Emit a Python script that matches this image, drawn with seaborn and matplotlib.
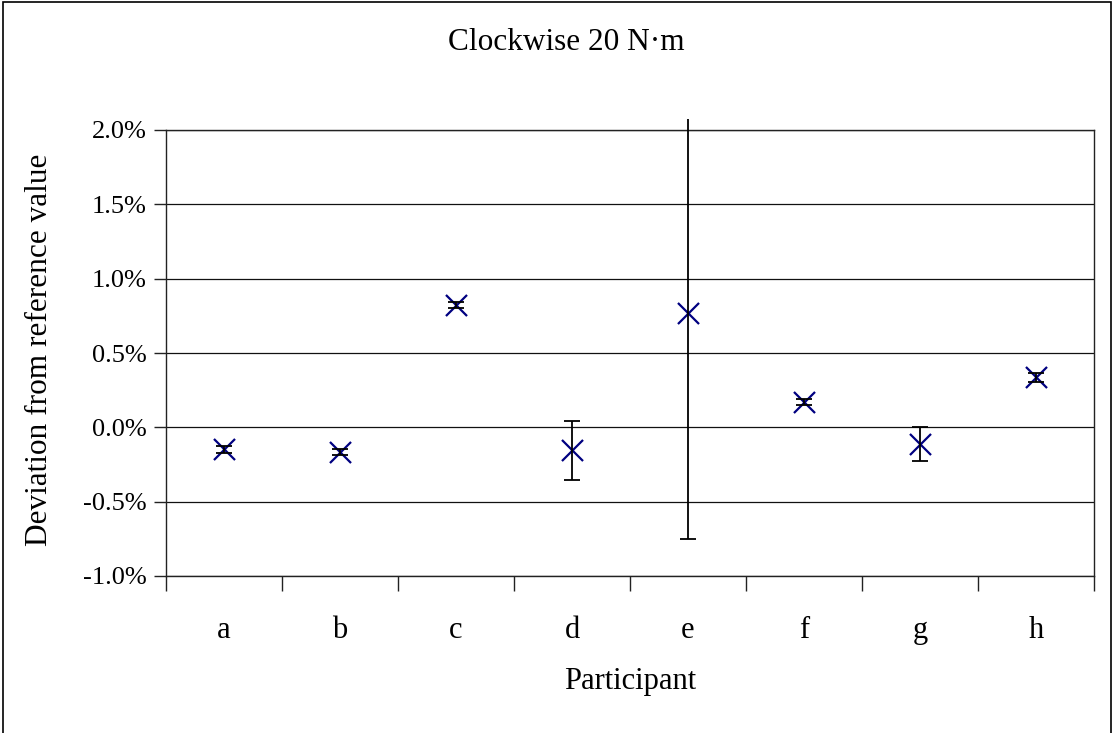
import matplotlib
matplotlib.use("Agg")
import matplotlib.pyplot as plt
from matplotlib.patches import Rectangle
from matplotlib.ticker import FuncFormatter, FixedLocator, NullFormatter
import seaborn as sns
import pandas as pd

participants = ["a", "b", "c", "d", "e", "f", "g", "h"]
deviation_pct = [-0.148, -0.168, 0.823, -0.155, 0.771, 0.168, -0.112, 0.337]
uncertainty_pct = [0.025, 0.02, 0.02, 0.20, 1.52, 0.02, 0.115, 0.03]
y_ticks = [-1.0, -0.5, 0.0, 0.5, 1.0, 1.5, 2.0]

df = pd.DataFrame({"Participant": participants,
                   "Deviation": deviation_pct,
                   "Err": uncertainty_pct})

sns.set_style("white")
plt.rcParams["font.family"] = ["Liberation Serif", "DejaVu Serif"]
plt.rcParams["axes.unicode_minus"] = False
plt.rcParams["text.color"] = "black"
plt.rcParams["xtick.color"] = "black"
plt.rcParams["ytick.color"] = "black"

fig = plt.figure(figsize=(11.13, 7.33), dpi=100)
ax = fig.add_axes([166/1113, 1 - 576/733, (1094-166)/1113, (576-130)/733])

# horizontal gridlines
ax.set_ylim(-1.0, 2.0)
ax.yaxis.set_major_locator(FixedLocator(y_ticks))
for yv in y_ticks:
    ax.axhline(yv, color="#111111", lw=0.9, zorder=1)

sns.scatterplot(data=df, x="Participant", y="Deviation", marker="x",
                s=230, color="#000080", linewidth=1.6, ax=ax, zorder=3,
                legend=False)

eb = ax.errorbar(range(len(participants)), deviation_pct, yerr=uncertainty_pct,
                 fmt="none", ecolor="black", elinewidth=1.3, capsize=6,
                 capthick=1.3, zorder=4)
clip = Rectangle((0, 0), 1, 1 + 11/446, transform=ax.transAxes,
                 facecolor="none", edgecolor="none")
for lc in eb.lines[2]:
    lc.set_clip_path(clip)

ax.set_xlim(-0.5, len(participants) - 0.5)
ax.xaxis.set_major_locator(FixedLocator([i - 0.5 for i in range(len(participants) + 1)]))
ax.xaxis.set_major_formatter(NullFormatter())
ax.set_xticks(range(len(participants)), participants, minor=True)
ax.tick_params(axis="x", which="major", direction="out", length=11, width=1.0,
               color="#222222", bottom=True)
ax.tick_params(axis="x", which="minor", length=0, labelsize=22, pad=29)
ax.tick_params(axis="y", direction="out", length=9, width=1.0, color="#222222",
               labelsize=19, pad=5, left=True)
ax.yaxis.set_major_formatter(FuncFormatter(lambda v, p: f"{v:.1f}%"))

for sp in ax.spines.values():
    sp.set_color("#222222")
    sp.set_linewidth(1.0)

ax.set_xlabel("")
ax.set_ylabel("")
fig.text(0.5 * (166 + 1094) / 1113, 1 - 682/733, "Participant", ha="center",
         va="center", fontsize=22)
fig.text(40/1113, 1 - 350/733, "Deviation from reference value", rotation=90,
         ha="center", va="center", fontsize=22.5)
fig.text(566/1113, 1 - 42/733, "Clockwise 20 N·m", ha="center", va="center",
         fontsize=22.5)

# outer chart border
fig.patches.append(Rectangle((3/1113, -0.01), (1111-3)/1113, 1.01 - 2/733,
                             transform=fig.transFigure, fill=False,
                             edgecolor="black", linewidth=1.2))

fig.savefig("out.png", dpi=100, facecolor="white")
